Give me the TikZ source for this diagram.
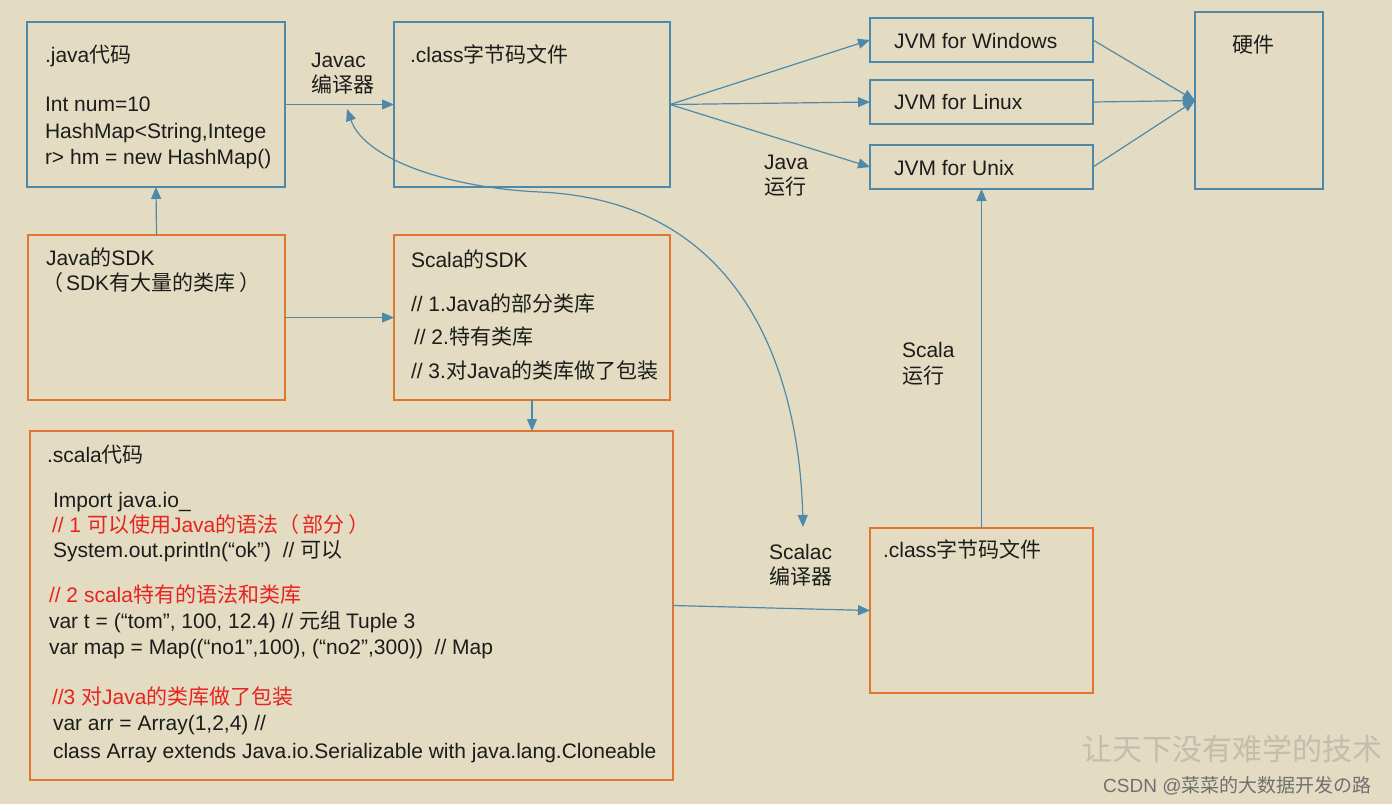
\documentclass[tikz,border=0pt]{standalone}
\usepackage{fontspec}
\setmainfont{Liberation Sans}
\newfontfamily\cjkfont{Noto Sans CJK SC}
\usetikzlibrary{arrows.meta}
\XeTeXinterchartokenstate=1
\newXeTeXintercharclass\cjkcls
\newcount\cjkcnt
\cjkcnt="3000
\loop\ifnum\cjkcnt<"A000 \XeTeXcharclass\cjkcnt=\cjkcls \advance\cjkcnt by 1 \repeat
\XeTeXcharclass"FF08=\cjkcls
\XeTeXcharclass"FF09=\cjkcls
\XeTeXinterchartoks 0 \cjkcls = {\cjkfont}
\XeTeXinterchartoks 4095 \cjkcls = {\cjkfont}
\XeTeXinterchartoks \cjkcls 0 = {\normalfont}
\XeTeXinterchartoks 4095 0 = {\normalfont}
\definecolor{bgcol}{HTML}{E3DCC2}
\definecolor{lblue}{HTML}{4F89AA}
\definecolor{lorange}{HTML}{E0772F}
\definecolor{tdark}{HTML}{1C1C1C}
\definecolor{tred}{HTML}{E8231F}
\definecolor{wmgray}{HTML}{C2BDAC}
\definecolor{csdngray}{HTML}{707070}
\tikzset{
  bbox/.style={draw=lblue, line width=2pt, inner sep=0pt, outer sep=0pt},
  obox/.style={draw=lorange, line width=2pt, inner sep=0pt, outer sep=0pt},
  conn/.style={draw=lblue, line width=1.2pt, -{Triangle[length=12pt,width=10pt]}},
  dconn/.style={draw=lblue, line width=1.2pt, {Triangle[length=12pt,width=10pt]}-{Triangle[length=12pt,width=10pt]}},
  txt/.style={anchor=base west, inner sep=0pt, outer sep=0pt, text=tdark, font=\fontsize{21}{25}\selectfont},
  rtxt/.style={txt, text=tred},
}
\begin{document}
\begin{tikzpicture}[x=1pt, y=-1pt]
\useasboundingbox (0,0) rectangle (1392,804);
\fill[bgcol] (0,0) rectangle (1392,804);

% boxes
\node[bbox, minimum width=258pt, minimum height=165pt] (jcode) at (156,104.5) {};
\node[bbox, minimum width=276pt, minimum height=165pt] (cls1) at (532,104.5) {};
\node[bbox, minimum width=223pt, minimum height=44pt] (win) at (981.5,40) {};
\node[bbox, minimum width=223pt, minimum height=44pt] (lin) at (981.5,102) {};
\node[bbox, minimum width=223pt, minimum height=44pt] (unx) at (981.5,167) {};
\node[bbox, minimum width=128pt, minimum height=177pt] (hw) at (1259,100.5) {};
\node[obox, minimum width=257pt, minimum height=165pt] (jsdk) at (156.5,317.5) {};
\node[obox, minimum width=276pt, minimum height=165pt] (ssdk) at (532,317.5) {};
\node[obox, minimum width=643pt, minimum height=349pt] (scode) at (351.5,605.5) {};
\node[obox, minimum width=223pt, minimum height=165pt] (cls2) at (981.5,610.5) {};

% texts in boxes
\node[txt] (t1) at (45,62) {.java代码};
\node[txt] (t2) at (45,111) {Int num=10};
\node[txt] (t3) at (45,138) {HashMap<String,Intege};
\node[txt] (t4) at (45,164) {r> hm = new HashMap()};
\node[txt] (t5) at (410,62) {.class字节码文件};
\node[txt] (t6) at (894,48) {JVM for Windows};
\node[txt] (t7) at (894,109) {JVM for Linux};
\node[txt] (t8) at (894,175) {JVM for Unix};
\node[txt] (t9) at (1232,52) {硬件};
\node[txt] (t10) at (46,265) {Java的SDK};
\node[txt] (t11) at (42,290) {（\kern3pt SDK有大量的类库\kern4pt ）};
\node[txt] (t12) at (411,267) {Scala的SDK};
\node[txt] (t13) at (411,311) {// 1.Java的部分类库};
\node[txt] (t14) at (414,344) {// 2.特有类库};
\node[txt] (t15) at (411,378) {// 3.对Java的类库做了包装};
\node[txt] (t16) at (883,557) {.class字节码文件};

% scala code
\node[txt] (s1) at (47,462) {.scala代码};
\node[txt] (s2) at (53,507) {Import java.io\_};
\node[rtxt] (s3) at (52,532) {// 1 可以使用Java的语法（\kern3pt 部分\kern4pt ）};
\node[txt] (s4) at (53,557) {System.out.println(“ok”)\ \ // 可以};
\node[rtxt] (s5) at (49,602) {// 2 scala特有的语法和类库};
\node[txt] (s6) at (49,628) {var t = (“tom”, 100, 12.4) // 元组 Tuple 3};
\node[txt] (s7) at (49,654) {var map = Map((“no1”,100), (“no2”,300))\ \ // Map};
\node[rtxt] (s8) at (52,704) {//3 对Java的类库做了包装};
\node[txt] (s9) at (53,730) {var arr = Array(1,2,4) //};
\node[txt] (s10) at (53,758) {class Array extends Java.io.Serializable with java.lang.Cloneable};

% connector labels
\node[txt] (l1) at (311,67) {Javac};
\node[txt] (l2) at (311,92) {编译器};
\node[txt] (l3) at (764,169) {Java};
\node[txt] (l4) at (764,194) {运行};
\node[txt] (l5) at (902,357) {Scala};
\node[txt] (l6) at (902,383) {运行};
\node[txt] (l7) at (769,559) {Scalac};
\node[txt] (l8) at (769,584) {编译器};

% connectors
\draw[conn] (jcode.east) -- (cls1.west);
\draw[conn] (jsdk.north) -- (jcode.south);
\draw[conn] (jsdk.east) -- (ssdk.west);
\draw[conn] (ssdk.south) -- (scode.north -| ssdk.south);
\draw[conn] (scode.east) -- (cls2.west);
\draw[conn] (cls1.east) -- (win.west);
\draw[conn] (cls1.east) -- (lin.west);
\draw[conn] (cls1.east) -- (unx.west);
\draw[conn] (win.east) -- (hw.west);
\draw[conn] (lin.east) -- (hw.west);
\draw[conn] (unx.east) -- (hw.west);
\draw[conn] (cls2.north) -- (unx.south);
\coordinate (cA) at (347,109);
\coordinate (cB) at (803,527);
\draw[dconn] (cA) .. controls (365,160) and (450,188) .. (540,192) .. controls (760,202) and (800,400) .. (cB);

% watermark
\node[anchor=base west, inner sep=0pt, text=wmgray, font=\cjkfont\fontsize{30}{34}\selectfont] (wm1) at (1082,760) {让天下没有难学的技术};
\node[anchor=base west, inner sep=0pt, text=csdngray, font=\fontsize{19}{21}\selectfont] (wm2) at (1103,792) {CSDN @菜菜的大数据开发の路};
\end{tikzpicture}
\end{document}
